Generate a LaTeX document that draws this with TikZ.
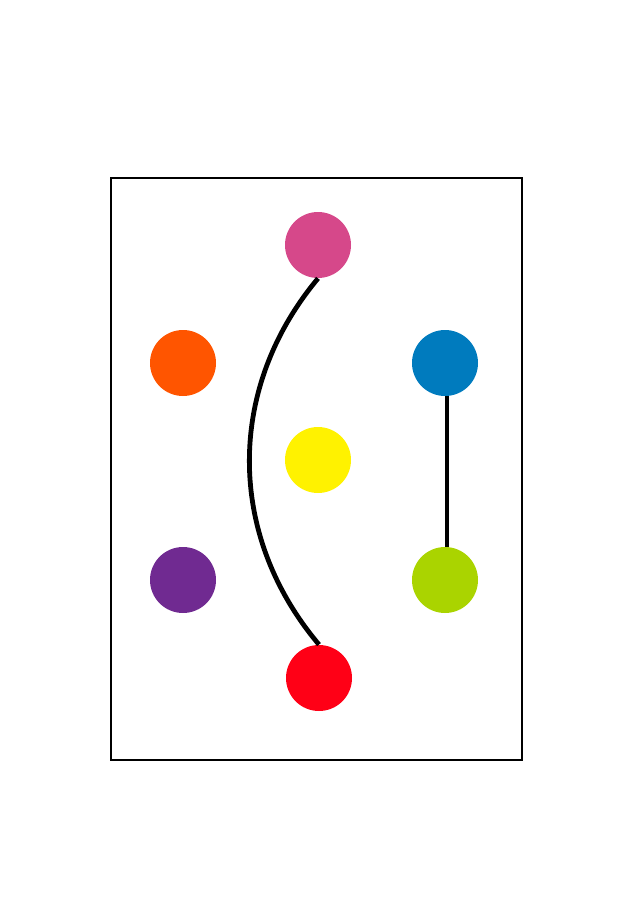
\documentclass[tikz,border=0pt]{standalone}
\definecolor{dotpink}{RGB}{214,72,138}
\definecolor{dotorange}{RGB}{255,85,0}
\definecolor{dotblue}{RGB}{0,123,190}
\definecolor{dotyellow}{RGB}{255,242,0}
\definecolor{dotpurple}{RGB}{112,42,145}
\definecolor{dotgreen}{RGB}{170,212,0}
\definecolor{dotred}{RGB}{255,0,22}
\begin{document}
\begin{tikzpicture}[x=0.5pt, y=-0.5pt,
        ball/.style={circle, inner sep=0pt, minimum size=33pt, draw=none},
        link/.style={line width=2.4pt}]
        \useasboundingbox (0, 0) rectangle (636, 900);
        \draw[line width=1.4pt] (111, 178) rectangle (522, 760);
        \node[ball, fill=dotpink] (pink) at (318, 245) {};
        \node[ball, fill=dotorange] (orange) at (183, 363) {};
        \node[ball, fill=dotblue] (blue) at (445, 363) {};
        \node[ball, fill=dotyellow] (yellow) at (318, 460) {};
        \node[ball, fill=dotpurple] (purple) at (183, 580) {};
        \node[ball, fill=dotgreen] (green) at (445, 580) {};
        \node[ball, fill=dotred] (red) at (319, 678) {};
        \draw[link] (pink.south) to[bend right=40] (red.north);
        \draw[link] ([xshift=1pt]blue.south) -- ([xshift=1pt]green.north);
    \end{tikzpicture}
\end{document}
